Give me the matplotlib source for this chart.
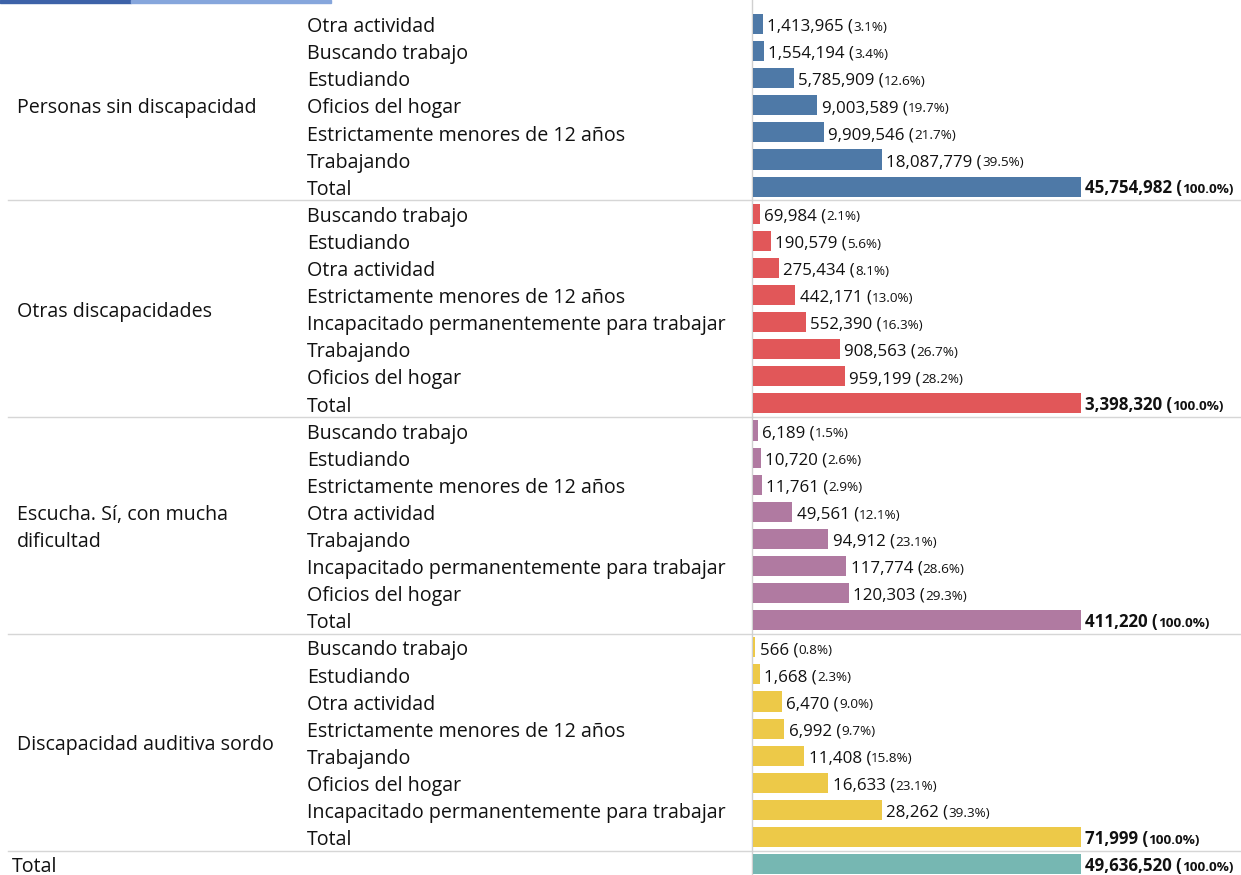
import matplotlib
matplotlib.use("Agg")
import matplotlib.pyplot as plt
from matplotlib.patches import Rectangle

groups = ["Personas sin discapacidad", "Otras discapacidades",
          "Escucha. Sí, con mucha\ndificultad", "Discapacidad auditiva sordo"]
group_colors = ["#4e79a7", "#e15759", "#b07aa1", "#edc948"]
total_color = "#76b7b2"

cats_0 = ["Otra actividad", "Buscando trabajo", "Estudiando", "Oficios del hogar",
          "Estrictamente menores de 12 años", "Trabajando", "Total"]
vals_0 = [1413965, 1554194, 5785909, 9003589, 9909546, 18087779, 45754982]
pct_0 = [3.1, 3.4, 12.6, 19.7, 21.7, 39.5, 100.0]

cats_1 = ["Buscando trabajo", "Estudiando", "Otra actividad", "Estrictamente menores de 12 años",
          "Incapacitado permanentemente para trabajar", "Trabajando", "Oficios del hogar", "Total"]
vals_1 = [69984, 190579, 275434, 442171, 552390, 908563, 959199, 3398320]
pct_1 = [2.1, 5.6, 8.1, 13.0, 16.3, 26.7, 28.2, 100.0]

cats_2 = ["Buscando trabajo", "Estudiando", "Estrictamente menores de 12 años", "Otra actividad",
          "Trabajando", "Incapacitado permanentemente para trabajar", "Oficios del hogar", "Total"]
vals_2 = [6189, 10720, 11761, 49561, 94912, 117774, 120303, 411220]
pct_2 = [1.5, 2.6, 2.9, 12.1, 23.1, 28.6, 29.3, 100.0]

cats_3 = ["Buscando trabajo", "Estudiando", "Otra actividad", "Estrictamente menores de 12 años",
          "Trabajando", "Oficios del hogar", "Incapacitado permanentemente para trabajar", "Total"]
vals_3 = [566, 1668, 6470, 6992, 11408, 16633, 28262, 71999]
pct_3 = [0.8, 2.3, 9.0, 9.7, 15.8, 23.1, 39.3, 100.0]

grand_label = "Total"
grand_value = 49636520
grand_pct = 100.0

all_cats = [cats_0, cats_1, cats_2, cats_3]
all_vals = [vals_0, vals_1, vals_2, vals_3]
all_pcts = [pct_0, pct_1, pct_2, pct_3]

FONT = "Open Sans"
LBL = 14.1
NUM = 12.2
PCT = 9.7
W, H = 1241, 875
fig = plt.figure(figsize=(W / 100, H / 100), dpi=100)
fig.patch.set_facecolor("white")

pitch = 27.1
first_center = 24.0
y_top = -first_center / pitch
y_bot = (H - first_center) / pitch

# background axes (pixel x, row y)
ax0 = fig.add_axes([0, 0, 1, 1])
ax0.set_xlim(0, W)
ax0.set_ylim(y_bot, y_top)
ax0.axis("off")

bar_left_px = 752
full_px = 328
axb = fig.add_axes([bar_left_px / W, 0, 1 - bar_left_px / W, 1])
axb.set_xlim(0, (W - bar_left_px) / full_px * 100)
axb.set_ylim(y_bot, y_top)
axb.axis("off")
axb.patch.set_alpha(0)

text_color = "#111111"
BASE_L = 0.30
BASE_N = 0.25
LINE = 0.97
row = 0
sep_rows = []


def value_label(p, v, bold, row):
    t = axb.text(p + 0.2 + 1.3, row + BASE_N, f"{v:,} (", fontsize=NUM, family=FONT,
                 fontweight="bold" if bold else "normal", color=text_color,
                 va="baseline", ha="left")
    axb.annotate(f"{p:.1f}%)", xy=(1, row + BASE_N), xycoords=(t, "data"),
                 fontsize=PCT, family=FONT, color=text_color,
                 fontweight="bold" if bold else "normal",
                 va="baseline", ha="left")


for gi, (g, cats, vals, pcts) in enumerate(zip(groups, all_cats, all_vals, all_pcts)):
    start = row
    for c, v, p in zip(cats, vals, pcts):
        bold = (c == "Total")
        ax0.text(307, row + BASE_L, c, fontsize=LBL, family=FONT, color=text_color,
                 va="baseline", ha="left")
        axb.barh(row, p, height=0.74, color=group_colors[gi], left=0.2)
        value_label(p, v, bold, row)
        row += 1
    center = (start + row - 1) / 2
    lines = g.split("\n")
    for k, ln in enumerate(lines):
        yb = center + BASE_L - (len(lines) - 1) * LINE / 2 + k * LINE
        ax0.text(17, yb, ln, fontsize=LBL, family=FONT, color=text_color,
                 va="baseline", ha="left")
    sep_rows.append(row - 0.5)

# grand total
ax0.text(12, row + BASE_L, grand_label, fontsize=LBL, family=FONT, color=text_color,
         va="baseline", ha="left")
axb.barh(row, grand_pct, height=0.74, color=total_color, left=0.2)
value_label(grand_pct, grand_value, True, row)

for s in sep_rows:
    ax0.plot([8, W], [s, s], color="#d6d6d6", lw=1.0, zorder=0)
ax0.plot([bar_left_px, bar_left_px], [y_top, y_bot], color="#d0d0d0", lw=1.0, zorder=0)

# top scroll indicator strip
fig.patches.append(Rectangle((0, 1 - 2.5 / H), 131 / W, 2.5 / H, transform=fig.transFigure,
                             color="#3d62a8", zorder=5))
fig.patches.append(Rectangle((131 / W, 1 - 2.5 / H), 200 / W, 2.5 / H, transform=fig.transFigure,
                             color="#86a6dc", zorder=5))

fig.savefig("out.png", dpi=100, facecolor="white")
